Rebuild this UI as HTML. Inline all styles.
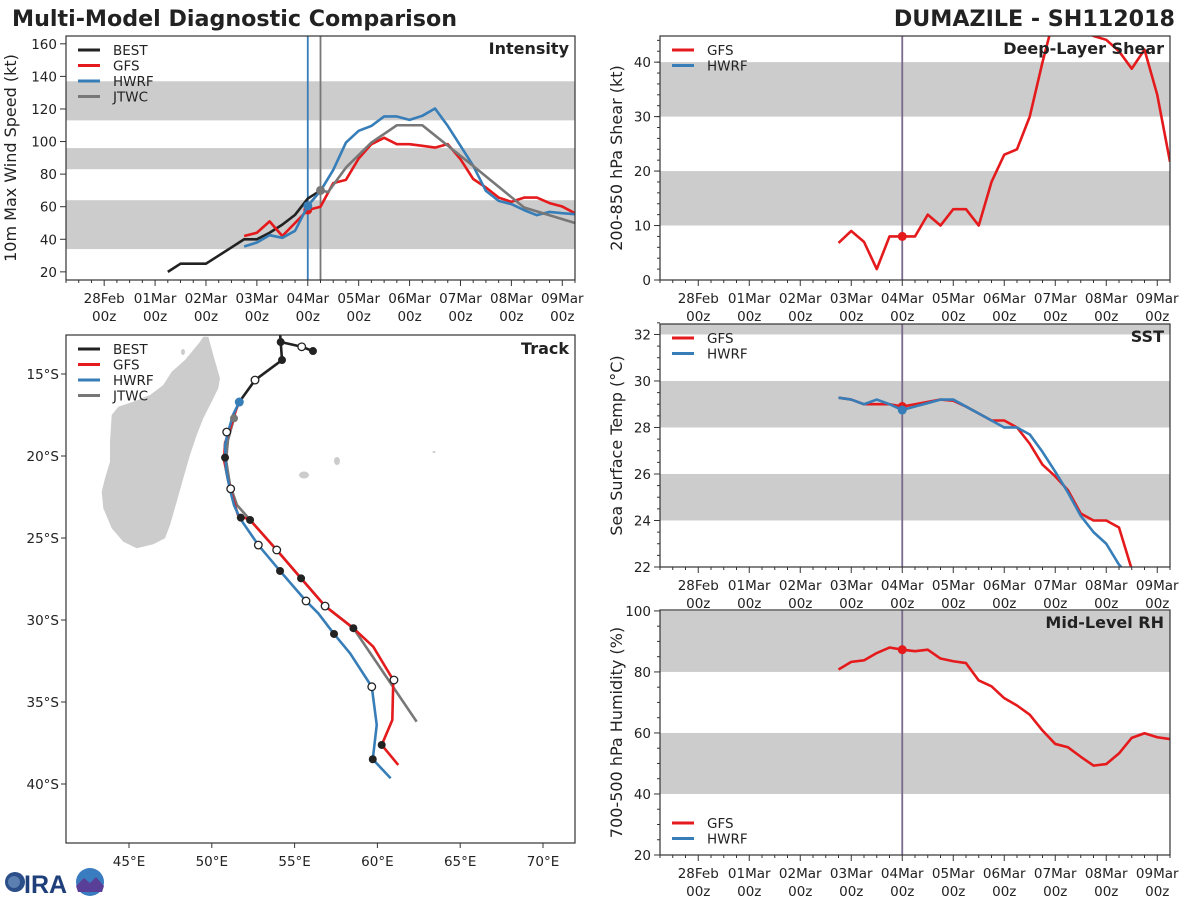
<!DOCTYPE html>
<html><head><meta charset="utf-8"><style>
body{margin:0;background:#fff}
svg{display:block;font-family:"DejaVu Sans","Liberation Sans",sans-serif}
</style></head><body>
<svg id="fig" width="1200" height="900" viewBox="0 0 1200 900" xmlns="http://www.w3.org/2000/svg">
<text x="12" y="26" font-size="22.2" font-weight="bold" fill="#222">Multi-Model Diagnostic Comparison</text>
<text x="1175" y="26" font-size="22.2" font-weight="bold" fill="#222" text-anchor="end">DUMAZILE - SH112018</text>
<g>
<circle cx="15" cy="882" r="10" fill="#2c4f8a"/><circle cx="14" cy="882" r="6" fill="#5b7fb0"/>
<text x="24" y="893" font-size="25" font-weight="bold" fill="#1f3f7a" font-family="Liberation Sans,sans-serif">IRA</text>
<circle cx="90" cy="882" r="14" fill="#3a7cc0"/><path d="M76 886 L84 878 L90 883 L96 877 L104 886 L102 892 L78 892Z" fill="#5a3f98"/>
</g>
</svg>
<script>
// ---- data ----
const bestTimes=[1.25,1.5,1.75,2,2.25,2.5,2.75,3,3.25,3.5,3.75,4,4.25];
const bestVmax=[20,25,25,25,30,35,40,40,44,49,55,65,70];
const fcstTimes=[2.75,3,3.25,3.5,3.75,4,4.25,4.5,4.75,5,5.25,5.5,5.75,6,6.25,6.5,6.75,7,7.25,7.5,7.75,8,8.25,8.5,8.75,9,9.25];
const gfsVmax=[42,44,51,42,50,58,60,74.5,76.5,89.6,98.4,102.3,98.4,98.4,97.4,96.3,98.4,89.2,77,71.8,65.6,63,65.6,65.6,62.2,60.1,56];
const hwrfVmax=[35.6,38,42.5,40.9,45.2,60.5,69.7,82.6,99.4,106.6,109.6,115.4,115.4,113.3,115.8,120.3,109.6,97.4,85.1,69.7,63.6,61.6,57.9,54.8,56.8,56,55.4];
const jtwcTimes=[4.25,4.4,4.75,5.25,5.75,6.25,7.25,8.25,9.25];
const jtwcVmax=[70,69,84,99.4,110,110,85,59.5,50];
const gfsShear=[6.8,9,7,2,8,8,8,12,10,13,13,10,18,23,24,30,40,49,48,46,44.8,44.1,42,38.8,42.3,34,21.7];
const gfsSst=[29.28,29.2,29,29,29,28.9,29,29.1,29.2,29.15,28.9,28.6,28.3,28.3,28,27.3,26.4,25.9,25.3,24.3,24,24,23.7,21.9];
const hwrfSst=[29.28,29.2,29,29.2,29,28.75,28.9,29.05,29.2,29.2,28.9,28.6,28.3,28,28,27.7,26.95,26.1,25.2,24.2,23.5,23,22.1,21.5];
const gfsRh=[80.8,83.3,83.8,86.2,88,87.3,86.8,87.3,84.4,83.5,82.9,77.2,75.3,71.4,69,66,60.8,56.4,55.3,52.2,49.3,49.8,53.3,58.4,59.9,58.6,58];
const dayLabels=["28Feb","01Mar","02Mar","03Mar","04Mar","05Mar","06Mar","07Mar","08Mar","09Mar"];
const bestLon=[54.12,54.16,55.43,56.11];
const bestLat=[-12.5,-13.05,-13.34,-13.6];
const bestLon2=[54.16,54.24,52.61,51.66];
const bestLat2=[-13.05,-14.15,-15.37,-16.71];
const gfsLon=[51.66,51.46,51.28,51.04,50.8,50.74,50.98,51.22,51.58,52.31,53.92,55.39,56.84,58.55,59.75,60.96,60.9,60.26,61.26];
const gfsLat=[-16.71,-17.2,-17.8,-18.54,-19.2,-20.24,-21.46,-22.38,-23.6,-23.9,-25.73,-27.46,-29.15,-30.5,-31.63,-33.66,-36.1,-37.62,-38.84];
const hwrfLon=[51.66,51.28,50.98,50.8,50.86,51.1,51.34,51.7,52.81,54.12,55.69,56.43,57.38,58.35,59.66,59.96,59.72,60.8];
const hwrfLat=[-16.71,-17.5,-18.54,-19.33,-20.85,-22.07,-22.99,-23.8,-25.43,-27.01,-28.84,-29.59,-30.85,-32.03,-34.07,-36.4,-38.49,-39.65];
const jtwcLon=[51.34,50.98,50.86,51.1,51.52,53.92,56.84,58.55,62.37];
const jtwcLat=[-17.7,-19.02,-20.24,-21.77,-22.99,-25.73,-29.15,-30.5,-36.2];
const filledLon=[51.66,50.8,51.75,52.31,54.12,55.39,57.38,58.55,60.26,59.72,56.11,54.16,54.24];
const filledLat=[-16.71,-20.1,-23.76,-23.9,-27.01,-27.46,-30.85,-30.5,-37.62,-38.49,-13.6,-13.05,-14.15];
const openLon=[52.61,50.9,51.14,52.81,53.92,55.69,56.84,59.66,61.0,55.43];
const openLat=[-15.37,-18.54,-22.0,-25.43,-25.73,-28.84,-29.15,-34.07,-33.66,-13.34];

const NS="http://www.w3.org/2000/svg";
const svg=document.getElementById('fig');
function el(tag,attrs,parent){const e=document.createElementNS(NS,tag);for(const k in attrs)e.setAttribute(k,attrs[k]);(parent||svg).appendChild(e);return e;}
function txt(s,attrs,parent){const e=el('text',attrs,parent);e.textContent=s;return e;}
const C={best:"#222222",gfs:"#e41a1c",hwrf:"#377eb8",jtwc:"#777777"};
let clipN=0;

function timePanel(o){
  const g=el('g',{});
  
  
  const xs=t=>o.x0+(t+0.75)/10*(o.x1-o.x0);
  const ys=v=>o.y1-(v-o.vmin)/(o.vmax-o.vmin)*(o.y1-o.y0);
  const id='clip'+(clipN++);
  const cp=el('clipPath',{id:id},g);el('rect',{x:o.x0,y:o.y0,width:o.x1-o.x0,height:o.y1-o.y0},cp);
  const inner=el('g',{'clip-path':'url(#'+id+')'},g);
  o.bands.forEach(b=>{const r=el('rect',{x:o.x0,y:ys(b[1]),width:o.x1-o.x0,height:ys(b[0])-ys(b[1]),fill:'#cccccc'},inner);
    
    });
  (o.vlines||[]).forEach(v=>el('line',{x1:xs(v[0]),x2:xs(v[0]),y1:o.y0,y2:o.y1,stroke:v[1],'stroke-width':1.8},inner));
  o.series.forEach(s=>{
    const p=el('polyline',{points:s.t.map((t,i)=>xs(t)+','+ys(s.v[i])).join(' '),fill:'none',stroke:s.c,'stroke-width':2.6,'stroke-linejoin':'round'},inner);
    
    
    if(s.dot!==undefined){const i=s.t.indexOf(s.dot);el('circle',{cx:xs(s.t[i]),cy:ys(s.v[i]),r:4.5,fill:s.c},inner);}
  });
  el('rect',{x:o.x0,y:o.y0,width:o.x1-o.x0,height:o.y1-o.y0,fill:'none',stroke:'#333','stroke-width':1.2},g);
  for(let q=-3;q<=37;q++){const t=q*0.25;const x=xs(t);if(x<o.x0-0.1||x>o.x1+0.1)continue;
    const major=q%4===0;el('line',{x1:x,x2:x,y1:o.y1,y2:o.y1+(major?6:3),stroke:'#333','stroke-width':1},g);}
  dayLabels.forEach((d,i)=>{const x=xs(i);
    const a=txt(d,{x:x,y:o.y1+23,'font-size':13.5,'text-anchor':'middle',fill:'#222'},g);
    
    
    txt('00z',{x:x,y:o.y1+41,'font-size':13.5,'text-anchor':'middle',fill:'#222'},g);});
  o.yticks.forEach(v=>{const y=ys(v);el('line',{x1:o.x0-6,x2:o.x0,y1:y,y2:y,stroke:'#333'},g);
    const a=txt(String(v),{x:o.x0-9,y:y+5,'font-size':13.5,'text-anchor':'end',fill:'#222'},g);
    
    });
  (o.yminor||[]).forEach(v=>{const y=ys(v);el('line',{x1:o.x0-3,x2:o.x0,y1:y,y2:y,stroke:'#333'},g);});
  const cy=(o.y0+o.y1)/2;
  const yt=txt(o.ylabel,{x:o.labx,y:cy,'font-size':16,'text-anchor':'middle',fill:'#222',transform:'rotate(-90 '+o.labx+' '+cy+')'},g);
  
  
  const pt=txt(o.title,{x:o.x1-6,y:o.y0+18,'font-size':16,'font-weight':'bold','text-anchor':'end',fill:'#222'},g);
  
  
  legend(g,o.x0+12,o.y0+14,o.legend);
}
function legend(g,x,y,items){
  const lg=el('g',{},g);
  
  
  items.forEach((it,i)=>{const yy=y+i*15.5;
    el('line',{x1:x,x2:x+22,y1:yy,y2:yy,stroke:C[it],'stroke-width':3},lg);
    const t=txt(it.toUpperCase(),{x:x+35,y:yy+5,'font-size':13.5,fill:'#222'},lg);
    
    });
}
const mk=(a,b)=>{const r=[];for(let v=a;v<=b;v+=2)r.push(v);return r;};
timePanel({name:'intensity-panel',x0:66,x1:575,y0:36,y1:280,vmin:15,vmax:164.8,title:'Intensity',ylabel:'10m Max Wind Speed (kt)',labx:16,
  yticks:[20,40,60,80,100,120,140,160],bands:[[34,64],[83,96],[113,137]],vlines:[[4,C.hwrf],[4.25,C.jtwc]],legend:['best','gfs','hwrf','jtwc'],
  series:[{n:'best',t:bestTimes,v:bestVmax,c:C.best},{n:'gfs',t:fcstTimes,v:gfsVmax,c:C.gfs,dot:4},{n:'hwrf',t:fcstTimes,v:hwrfVmax,c:C.hwrf,dot:4},{n:'jtwc',t:jtwcTimes,v:jtwcVmax,c:C.jtwc,dot:4.25}]});
timePanel({name:'shear-panel',x0:660,x1:1170,y0:36,y1:280,vmin:0,vmax:44.8,title:'Deep-Layer Shear',ylabel:'200-850 hPa Shear (kt)',labx:622,
  yticks:[0,10,20,30,40],yminor:mk(2,44),bands:[[10,20],[30,40]],vlines:[[4,'#7a6a8c']],legend:['gfs','hwrf'],
  series:[{n:'gfs',t:fcstTimes,v:gfsShear,c:C.gfs,dot:4}]});
timePanel({name:'sst-panel',x0:660,x1:1170,y0:324,y1:567,vmin:22,vmax:32.45,title:'SST',ylabel:'Sea Surface Temp (°C)',labx:622,
  yticks:[22,24,26,28,30,32],yminor:[22.5,23,23.5,24.5,25,25.5,26.5,27,27.5,28.5,29,29.5,30.5,31,31.5,32.5],bands:[[24,26],[28,30],[32,33]],vlines:[[4,'#7a6a8c']],legend:['gfs','hwrf'],
  series:[{n:'gfs',t:fcstTimes.slice(0,gfsSst.length),v:gfsSst,c:C.gfs,dot:4},{n:'hwrf',t:fcstTimes.slice(0,hwrfSst.length),v:hwrfSst,c:C.hwrf,dot:4}]});
timePanel({name:'rh-panel',x0:660,x1:1170,y0:610,y1:855,vmin:20,vmax:100.3,title:'Mid-Level RH',ylabel:'700-500 hPa Humidity (%)',labx:622,
  yticks:[20,40,60,80,100],yminor:[25,30,35,45,50,55,65,70,75,85,90,95],bands:[[40,60],[80,100]],vlines:[[4,'#7a6a8c']],legend:[],
  series:[{n:'gfs',t:fcstTimes,v:gfsRh,c:C.gfs,dot:4}]});
(function(){const g=el('g',{});legend(g,672,823,['gfs','hwrf']);})();

// ---- track panel ----
(function(){
  const x0=66,x1=575,y0=335,y1=843;
  const lx=lon=>129+(lon-45)*16.56;
  const ly=lat=>374+(-lat-15)*16.4;
  const g=el('g',{});
  
  
  const cp=el('clipPath',{id:'trk'},g);el('rect',{x:x0,y:y0,width:x1-x0,height:y1-y0},cp);
  const inner=el('g',{'clip-path':'url(#trk)'},g);
  const mad=el('path',{d:'M208.3 336.7 L213.3 355 L220 378.3 L218.3 388.3 L211.7 401.7 L203.3 418.3 L196.7 435 L190 455 L183.3 478.3 L176.7 501.7 L170 525 L165 538.3 L153.3 544.3 L136.7 548.3 L123.3 541.7 L111.7 528.3 L103.3 508.3 L101.7 491.7 L105 478.3 L110 461.7 L110 441.7 L111.7 415 L118.3 406.7 L133.3 401.7 L150 395 L163.3 385 L171.7 371.7 L185 360 L193.3 350 L200 341.7 L203.3 336.7 Z',fill:'#cccccc'},inner);
  
  
  el('ellipse',{cx:304,cy:475,rx:5,ry:3.5,fill:'#cccccc'},inner);
  el('ellipse',{cx:337,cy:461,rx:3,ry:4,fill:'#cccccc'},inner);
  el('ellipse',{cx:183,cy:352,rx:2,ry:3,fill:'#cccccc'},inner);
  el('ellipse',{cx:434,cy:452,rx:1.5,ry:1,fill:'#cccccc'},inner);
  function tr(lons,lats,c,n){const p=el('polyline',{points:lons.map((l,i)=>lx(l)+','+ly(lats[i])).join(' '),fill:'none',stroke:c,'stroke-width':2.6,'stroke-linejoin':'round'},inner);
    
    }
  tr(jtwcLon,jtwcLat,C.jtwc,'jtwc-track');
  tr(gfsLon,gfsLat,C.gfs,'gfs-track');
  tr(hwrfLon,hwrfLat,C.hwrf,'hwrf-track');
  tr(bestLon,bestLat,C.best,'best-track');
  tr(bestLon2,bestLat2,C.best,'best-track-recent');
  filledLon.forEach((l,i)=>el('circle',{cx:lx(l),cy:ly(filledLat[i]),r:4,fill:'#222'},inner));
  openLon.forEach((l,i)=>el('circle',{cx:lx(l),cy:ly(openLat[i]),r:3.8,fill:'#fff',stroke:'#222','stroke-width':1.3},inner));
  el('circle',{cx:lx(51.66),cy:ly(-16.71),r:4.5,fill:C.hwrf},inner);
  el('circle',{cx:lx(51.34),cy:ly(-17.7),r:4,fill:C.jtwc},inner);
  el('rect',{x:x0,y:y0,width:x1-x0,height:y1-y0,fill:'none',stroke:'#333','stroke-width':1.2},g);
  [45,50,55,60,65,70].forEach(l=>{const x=lx(l);el('line',{x1:x,x2:x,y1:y1,y2:y1+5,stroke:'#333'},g);
    const t=txt(l+'°E',{x:x,y:y1+23,'font-size':13.5,'text-anchor':'middle',fill:'#222'},g);
    
    });
  [15,20,25,30,35,40].forEach(l=>{const y=ly(-l);el('line',{x1:x0-5,x2:x0,y1:y,y2:y,stroke:'#333'},g);
    const t=txt(l+'°S',{x:x0-7,y:y+5,'font-size':13.5,'text-anchor':'end',fill:'#222'},g);
    
    });
  const pt=txt('Track',{x:x1-6,y:y0+19,'font-size':16,'font-weight':'bold','text-anchor':'end',fill:'#222'},g);
  
  
  legend(g,78,349,['best','gfs','hwrf','jtwc']);
})();
</script>
</body></html>
